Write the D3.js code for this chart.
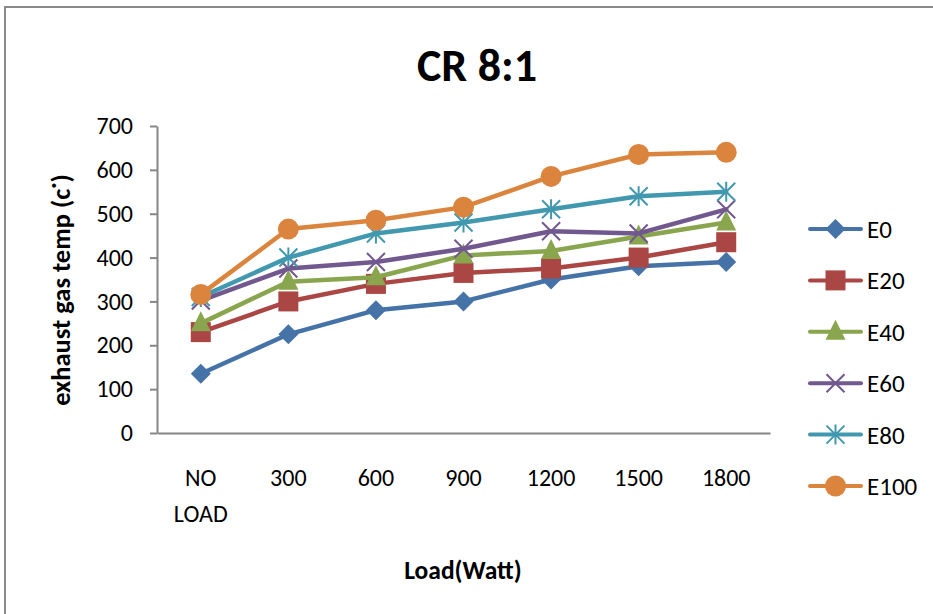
<!DOCTYPE html>
<html>
<head>
<meta charset="utf-8">
<script src="https://cdn.jsdelivr.net/npm/d3@7"></script>
<style>
  html, body { margin: 0; padding: 0; background: #fff; }
  svg { display: block; }
  text { font-family: Carlito, Lato, "Liberation Sans", sans-serif; fill: #000; }
</style>
</head>
<body>
<svg id="chart" width="933" height="614"></svg>
<script>
// Exhaust gas temperature (°C) against engine load, compression ratio 8:1
const categories = ["NO LOAD", "300", "600", "900", "1200", "1500", "1800"];
const seriesNames = ["E0", "E20", "E40", "E60", "E80", "E100"];
const e0   = [135, 225, 280, 300, 350, 380, 390];
const e20  = [230, 300, 340, 365, 375, 400, 435];
const e40  = [250, 345, 355, 405, 415, 448, 480];
const e60  = [302, 375, 390, 420, 460, 455, 510];
const e80  = [310, 400, 455, 480, 510, 540, 550];
const e100 = [316, 465, 485, 515, 585, 635, 640];
const yTicks = [0, 100, 200, 300, 400, 500, 600, 700];
const colors = ["#4572A7", "#AA4643", "#89A54E", "#71588F", "#4198AF", "#DB843D"];
const markers = ["diamond", "square", "triangle", "cross", "asterisk", "circle"];

const seriesValues = [e0, e20, e40, e60, e80, e100];
const series = seriesNames.map((name, i) => ({
  name, color: colors[i], marker: markers[i], values: seriesValues[i]
}));

const svg = d3.select("#chart");

// chart frame
svg.append("rect")
  .attr("x", 5).attr("y", 7).attr("width", 940).attr("height", 620)
  .attr("fill", "none").attr("stroke", "#8a8a8a").attr("stroke-width", 2);

const plot = { left: 157, right: 770, top: 126, bottom: 433 };

const x = d3.scaleBand().domain(categories).range([plot.left, plot.right]);
const y = d3.scaleLinear().domain([0, 700]).range([plot.bottom, plot.top]);
const cx = c => x(c) + x.bandwidth() / 2;

// title
svg.append("text")
  .attr("x", 477).attr("y", 81)
  .attr("text-anchor", "middle")
  .style("font-size", "46px").style("font-weight", "bold")
  .text("CR 8:1");

// y axis
const yAxis = svg.append("g")
  .attr("transform", `translate(${plot.left},0)`)
  .call(d3.axisLeft(y).tickValues(yTicks).tickSize(7).tickPadding(17).tickSizeOuter(0));
yAxis.select(".domain").attr("stroke", "#868686").attr("stroke-width", 2);
yAxis.selectAll(".tick line").attr("stroke", "#868686").attr("stroke-width", 2);
yAxis.selectAll(".tick text")
  .style("font-size", "24px").style("font-family", "Carlito, Lato, 'Liberation Sans', sans-serif")
  .attr("fill", "#000");

// x axis
const xAxis = svg.append("g")
  .attr("transform", `translate(0,${plot.bottom})`)
  .call(d3.axisBottom(x).tickSize(0).tickSizeOuter(0).tickFormat(""));
xAxis.select(".domain").attr("stroke", "#868686").attr("stroke-width", 2);

// category labels (wrapping "NO LOAD" onto two lines)
const xLabels = svg.append("g");
categories.forEach(c => {
  const t = xLabels.append("text")
    .attr("x", cx(c)).attr("y", 486)
    .attr("text-anchor", "middle")
    .style("font-size", "24px");
  c.split(" ").forEach((w, i) => {
    t.append("tspan").attr("x", cx(c)).attr("dy", i === 0 ? 0 : 36).text(w);
  });
});

// axis titles
svg.append("text")
  .attr("x", 463).attr("y", 579)
  .attr("text-anchor", "middle")
  .style("font-size", "25.5px").style("font-weight", "bold")
  .text("Load(Watt)");

svg.append("text")
  .attr("transform", "translate(70,290) rotate(-90)")
  .attr("text-anchor", "middle")
  .style("font-size", "26.5px").style("font-weight", "bold")
  .text("exhaust gas temp (c˙)");

// marker drawing
function drawMarker(g, type, color, px, py) {
  const s = g.append("g").attr("transform", `translate(${px},${py})`);
  switch (type) {
    case "diamond":
      s.append("path").attr("d", "M0,-10L10,0L0,10L-10,0Z").attr("fill", color);
      break;
    case "square":
      s.append("rect").attr("x", -10).attr("y", -10).attr("width", 20).attr("height", 20).attr("fill", color);
      break;
    case "triangle":
      s.append("path").attr("d", "M0,-12L10,8L-10,8Z").attr("fill", color);
      break;
    case "cross":
      s.append("path").attr("d", "M-9,-9L9,9M9,-9L-9,9")
        .attr("stroke", color).attr("stroke-width", 2).attr("fill", "none");
      break;
    case "asterisk":
      s.append("path").attr("d", "M-9,-9L9,9M9,-9L-9,9M0,-10L0,10")
        .attr("stroke", color).attr("stroke-width", 2).attr("fill", "none");
      break;
    case "circle":
      s.append("circle").attr("r", 10.5).attr("fill", color);
      break;
  }
}

const line = d3.line().x((d, i) => cx(categories[i])).y(d => y(d));

const seriesG = svg.append("g");
series.forEach(s => {
  const g = seriesG.append("g");
  g.append("path").datum(s.values)
    .attr("d", line)
    .attr("fill", "none").attr("stroke", s.color)
    .attr("stroke-width", 4.5).attr("stroke-linejoin", "round").attr("stroke-linecap", "round");
  s.values.forEach((v, i) => drawMarker(g, s.marker, s.color, cx(categories[i]), y(v)));
});

// legend
const legend = svg.append("g");
series.forEach((s, i) => {
  const ly = 229 + i * 51.4;
  const g = legend.append("g");
  g.append("line").attr("x1", 810).attr("x2", 861).attr("y1", ly).attr("y2", ly)
    .attr("stroke", s.color).attr("stroke-width", 4).attr("stroke-linecap", "round");
  drawMarker(g, s.marker, s.color, 835.5, ly);
  g.append("text").attr("x", 867).attr("y", ly + 9)
    .style("font-size", "25px").text(s.name);
});
</script>
</body>
</html>
